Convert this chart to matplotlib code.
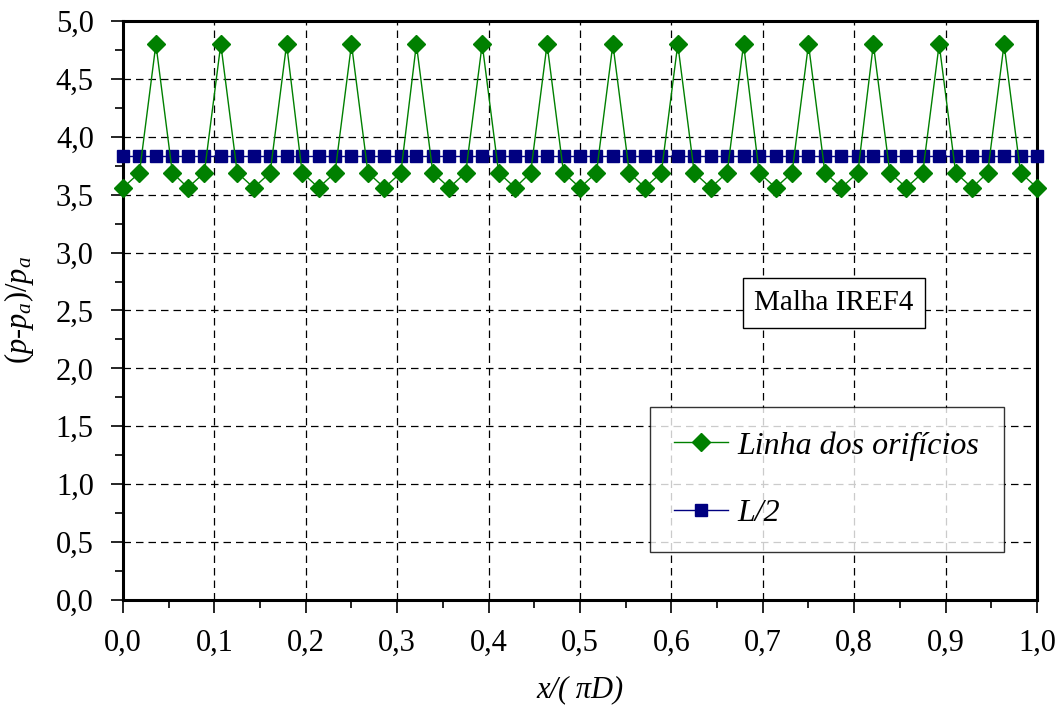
import numpy as np
import matplotlib
matplotlib.use('Agg')
import matplotlib.pyplot as plt
from matplotlib.ticker import MultipleLocator, FuncFormatter

plt.rcParams['font.family'] = ['Liberation Serif', 'DejaVu Serif']
plt.rcParams['mathtext.fontset'] = 'custom'
plt.rcParams['mathtext.rm'] = 'Liberation Serif'
plt.rcParams['mathtext.it'] = 'Liberation Serif:italic'
plt.rcParams['mathtext.default'] = 'it'

x = [0.000, 0.018, 0.036, 0.054, 0.071, 0.089, 0.107, 0.125, 0.143, 0.161,
     0.179, 0.196, 0.214, 0.232, 0.250, 0.268, 0.286, 0.304, 0.321, 0.339,
     0.357, 0.375, 0.393, 0.411, 0.429, 0.446, 0.464, 0.482, 0.500, 0.518,
     0.536, 0.554, 0.571, 0.589, 0.607, 0.625, 0.643, 0.661, 0.679, 0.696,
     0.714, 0.732, 0.750, 0.768, 0.786, 0.804, 0.821, 0.839, 0.857, 0.875,
     0.893, 0.911, 0.929, 0.946, 0.964, 0.982, 1.000]

linha_orificios = [3.56, 3.69, 4.80, 3.69, 3.56, 3.69, 4.80, 3.69, 3.56, 3.69,
                   4.80, 3.69, 3.56, 3.69, 4.80, 3.69, 3.56, 3.69, 4.80, 3.69,
                   3.56, 3.69, 4.80, 3.69, 3.56, 3.69, 4.80, 3.69, 3.56, 3.69,
                   4.80, 3.69, 3.56, 3.69, 4.80, 3.69, 3.56, 3.69, 4.80, 3.69,
                   3.56, 3.69, 4.80, 3.69, 3.56, 3.69, 4.80, 3.69, 3.56, 3.69,
                   4.80, 3.69, 3.56, 3.69, 4.80, 3.69, 3.56]

meio_L = [3.83, 3.83, 3.83, 3.83, 3.83, 3.83, 3.83, 3.83, 3.83, 3.83,
          3.83, 3.83, 3.83, 3.83, 3.83, 3.83, 3.83, 3.83, 3.83, 3.83,
          3.83, 3.83, 3.83, 3.83, 3.83, 3.83, 3.83, 3.83, 3.83, 3.83,
          3.83, 3.83, 3.83, 3.83, 3.83, 3.83, 3.83, 3.83, 3.83, 3.83,
          3.83, 3.83, 3.83, 3.83, 3.83, 3.83, 3.83, 3.83, 3.83, 3.83,
          3.83, 3.83, 3.83, 3.83, 3.83, 3.83, 3.83]

fig = plt.figure(figsize=(10.64, 7.11), dpi=100)
ax = fig.add_axes([0.1156, 0.1561, 0.859, 0.8144])

ax.plot(x, linha_orificios, color='#008000', linewidth=1.0, marker='D',
        markersize=9, label='Linha dos orifícios', zorder=4, clip_on=False)
ax.plot(x, meio_L, color='#000080', linewidth=1.0, marker='s',
        markersize=8, label='L/2', zorder=3, clip_on=False)

ax.set_xlim(0, 1)
ax.set_ylim(0, 5)
ax.xaxis.set_major_locator(MultipleLocator(0.1))
ax.xaxis.set_minor_locator(MultipleLocator(0.05))
ax.yaxis.set_major_locator(MultipleLocator(0.5))
ax.yaxis.set_minor_locator(MultipleLocator(0.25))
fmt = FuncFormatter(lambda v, p: f'{v:.1f}'.replace('.', ','))
ax.xaxis.set_major_formatter(fmt)
ax.yaxis.set_major_formatter(fmt)

ax.tick_params(which='major', direction='out', length=9, width=1.2,
               labelsize=22, pad=12)
ax.tick_params(which='minor', direction='out', length=6, width=1.2)
ax.grid(True, which='major', color='black', linestyle=(0, (6, 4)),
        linewidth=0.9)
for s in ax.spines.values():
    s.set_linewidth(2.2)

ax.set_xlabel('x/( πD)', fontsize=22, fontstyle='italic', labelpad=12)
ax.set_ylabel(r'$(p$-$p_a)/p_a$', fontsize=22, labelpad=14)

ax.text(0.778, 0.513, 'Malha IREF4', transform=ax.transAxes, fontsize=21,
        ha='center', va='center', zorder=6,
        bbox=dict(boxstyle='square,pad=0.4', facecolor='white',
                  edgecolor='black', linewidth=1.0))

leg = ax.legend(loc='upper left', bbox_to_anchor=(0.5766, 0.333),
                borderaxespad=0, prop={'style': 'italic', 'size': 23},
                frameon=True, fancybox=False, handlelength=1.7,
                labelspacing=1.2, borderpad=0.75, handletextpad=0.3,
                numpoints=1)
leg.get_frame().set_edgecolor('black')
leg.get_frame().set_linewidth(1.0)
leg.set_zorder(6)

fig.savefig('out.png', dpi=100)
